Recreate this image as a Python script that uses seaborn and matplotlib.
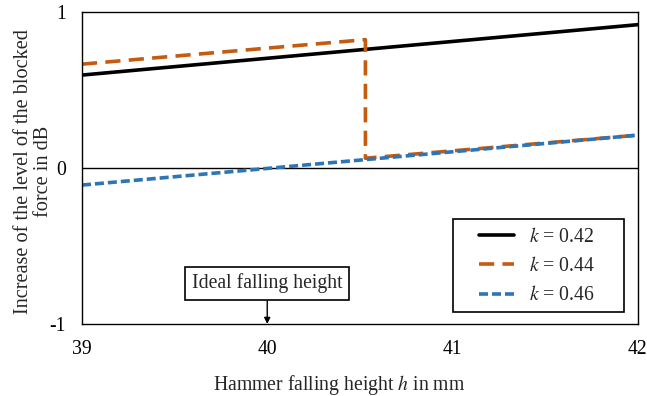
import matplotlib
matplotlib.use("Agg")
import matplotlib.pyplot as plt
import matplotlib.patches as mpatches
import seaborn as sns
import pandas as pd

# data
x_042 = [39.0, 42.0]
y_042 = [0.595, 0.918]
x_044 = [39.0, 40.53, 40.53, 42.0]
y_044 = [0.665, 0.822, 0.062, 0.210]
x_046 = [39.0, 42.0]
y_046 = [-0.11, 0.210]
labels = ["$k$ = 0.42", "$k$ = 0.44", "$k$ = 0.46"]
x_ticks = [39, 40, 41, 42]
y_ticks = [-1, 0, 1]
ideal_h = 40

sns.set_style("white")
plt.rcParams["font.family"] = ["Liberation Serif", "DejaVu Serif"]
plt.rcParams["mathtext.fontset"] = "stix"

FS = 14.2
fig = plt.figure(figsize=(6.47, 3.96), dpi=100)
ax = fig.add_axes([0.1267, 0.182, 0.859, 0.788])

df1 = pd.DataFrame({"x": x_042, "y": y_042})
df2 = pd.DataFrame({"x": x_044, "y": y_044})
df3 = pd.DataFrame({"x": x_046, "y": y_046})

sns.lineplot(data=df1, x="x", y="y", ax=ax, color="black", lw=2.6,
             estimator=None, sort=False, label=labels[0])
sns.lineplot(data=df2, x="x", y="y", ax=ax, color="#c55a11", lw=2.6,
             estimator=None, sort=False, label=labels[1])
ax.lines[-1].set_dashes([4.2, 2.3])
sns.lineplot(data=df3, x="x", y="y", ax=ax, color="#2e75b6", lw=2.6,
             estimator=None, sort=False, label=labels[2])
ax.lines[-1].set_dashes([2.5, 1.1])

ax.axhline(0, color="black", lw=1.0, zorder=1)

ax.set_xlim(39, 42)
ax.set_ylim(-1, 1)
ax.set_xticks(x_ticks)
ax.set_yticks(y_ticks)
ax.set_xticklabels([str(t) for t in x_ticks], fontsize=FS)
ax.set_yticklabels([str(t) for t in y_ticks], fontsize=FS)
ax.tick_params(axis="both", direction="inout", length=7, width=1, colors="black", pad=8)
for s in ax.spines.values():
    s.set_color("black")
    s.set_linewidth(1.0)

ax.set_xlabel("Hammer falling height $h$ in mm", fontsize=FS)
ax.xaxis.set_label_coords(0.462, -0.157)
ax.set_ylabel("Increase of the level of the blocked\nforce in dB", fontsize=14.6,
              linespacing=1.1)
ax.yaxis.set_label_coords(-0.052, 0.489)

ax.annotate("Ideal falling height", xy=(ideal_h, -1), xytext=(ideal_h, -0.74),
            ha="center", va="center", fontsize=FS,
            bbox=dict(boxstyle="square,pad=0.35", fc="white", ec="black", lw=1.2),
            arrowprops=dict(arrowstyle="-|>", color="black", lw=1.0,
                            mutation_scale=9, shrinkA=0, shrinkB=0))

# legend frame drawn separately
frame = mpatches.Rectangle((0.667, 0.0385), 0.308, 0.298, transform=ax.transAxes,
                           fc="white", ec="black", lw=1.2, zorder=4)
ax.add_patch(frame)
leg = ax.legend(loc="center", bbox_to_anchor=(0.819, 0.184), fontsize=FS,
                frameon=False, handlelength=1.78, borderpad=0.2,
                labelspacing=0.53, handletextpad=0.76, borderaxespad=0)
leg.set_zorder(5)

fig.savefig("out.png", dpi=100)
